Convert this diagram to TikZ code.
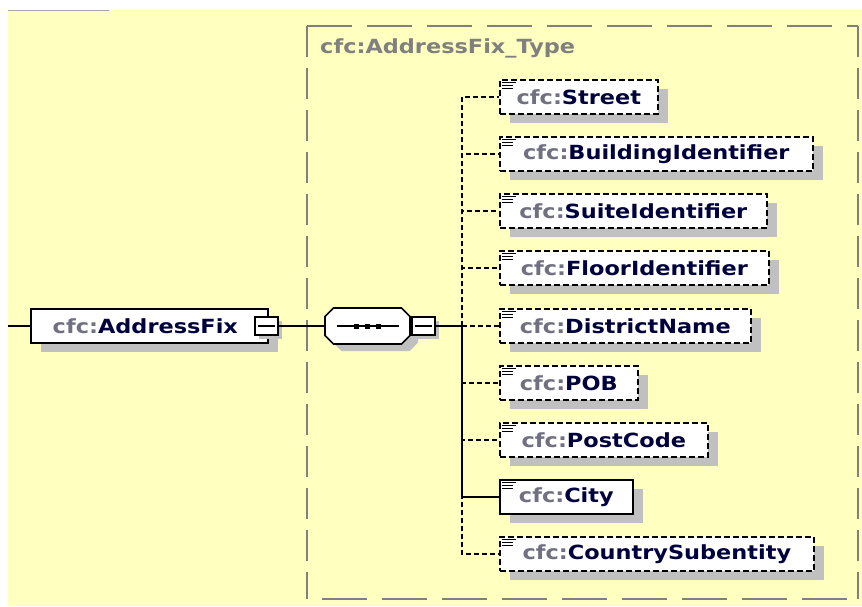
\documentclass[tikz,border=0pt]{standalone}
\usepackage{fontspec}
\setmainfont{DejaVu Sans}
\newfontfamily\schemafont[FakeStretch=1.15]{DejaVu Sans}
\usetikzlibrary{shadows}

\definecolor{bgyellow}{RGB}{255,255,192}
\definecolor{shadowgray}{RGB}{192,192,192}
\definecolor{prefixgray}{RGB}{112,112,128}
\definecolor{namenavy}{RGB}{0,0,60}
\definecolor{typegray}{RGB}{128,128,128}

\newcommand{\cfc}[1]{\textcolor{prefixgray}{cfc:}\textcolor{namenavy}{#1}}
\newcommand{\docicon}[1]{%
  \draw[line width=1.1pt] ([xshift=3pt,yshift=-3pt]#1.north west) -- ++(14,0)
    ([xshift=3pt,yshift=-6pt]#1.north west) -- ++(11,0)
    ([xshift=3pt,yshift=-9pt]#1.north west) -- ++(11,0);}
\newcommand{\octagon}{+(-34,-18) -- +(34,-18) -- +(42.5,-9.5) -- +(42.5,9.5)
  -- +(34,18) -- +(-34,18) -- +(-42.5,9.5) -- +(-42.5,-9.5) -- cycle}

\tikzset{
  elem/.style={draw, line width=1.7pt, fill=white, minimum height=34pt, inner xsep=1pt,
    font={\schemafont\bfseries\fontsize{19.5pt}{21pt}\selectfont},
    drop shadow={shadow xshift=10pt, shadow yshift=-9pt, fill=shadowgray, opacity=1}},
  optelem/.style={elem, dash pattern=on 6pt off 3pt},
  minusbox/.style={draw, fill=white, line width=1.5pt, minimum width=23pt, minimum height=18pt, inner sep=0pt,
    drop shadow={shadow xshift=4pt, shadow yshift=-4pt, fill=shadowgray, opacity=1},
    path picture={\draw[line width=1.5pt] ([xshift=3pt]path picture bounding box.west) -- ([xshift=-3pt]path picture bounding box.east);}},
  seqbox/.style={minimum width=85pt, minimum height=36pt, inner sep=0pt},
  conn/.style={line width=1.7pt},
  optconn/.style={conn, dash pattern=on 5pt off 3pt},
  typeline/.style={typegray, line width=1.3pt},
}

\begin{document}
\begin{tikzpicture}[x=1pt,y=-1pt]
  \useasboundingbox (0,0) rectangle (862,606);
  \fill[bgyellow] (8,10) rectangle (862,606);
  \draw[gray!70, line width=1pt] (8,10) -- (109,10);

  % complex type frame
  \draw[typeline, dash pattern=on 45pt off 15pt] (307,26) -- (858,26);
  \draw[typeline, dash pattern=on 45pt off 15pt] (322,599) -- (858,599);
  \draw[typeline, dash pattern=on 31pt off 11pt] (307,26) -- (307,599);
  \draw[typeline, dash pattern=on 31pt off 11pt] (858,26) -- (858,599);
  \node[anchor=west, inner sep=0pt, text=typegray, font={\schemafont\bfseries\fontsize{19.5pt}{21pt}\selectfont}] (typename) at (320,48) {cfc:AddressFix\_Type};

  % root element and sequence
  \coordinate (in) at (8,326);
  \node[elem, anchor=west, minimum width=237pt] (fix) at (30,326) {\cfc{AddressFix}\hspace*{8pt}};
  \node[minusbox] (fixminus) at (266.5,326) {};
  \node[seqbox] (seq) at (367.5,326) {};
  \fill[shadowgray] ([xshift=8pt,yshift=-7pt]seq.center) \octagon;
  \filldraw[fill=white, line width=1.7pt] (seq.center) \octagon;
  \node[minusbox] (seqminus) at (423.5,326) {};
  \coordinate (trunk) at (462,326);
  \draw[line width=1.5pt] ([xshift=-31pt]seq.center) -- ([xshift=31pt]seq.center);
  \foreach \dx in {-11,0,11}
    \fill ([xshift=\dx pt]seq.center) +(-2.5,-2.5) rectangle +(2.5,2.5);

  % children
  \node[optelem, anchor=west, minimum width=158pt] (street) at (499,97) {\cfc{Street}};
  \node[optelem, anchor=west, minimum width=313pt] (building) at (499,154) {\cfc{BuildingIdentifier}};
  \node[optelem, anchor=west, minimum width=267pt] (suite) at (499,211) {\cfc{SuiteIdentifier}};
  \node[optelem, anchor=west, minimum width=269pt] (floor) at (499,268) {\cfc{FloorIdentifier}};
  \node[optelem, anchor=west, minimum width=251pt] (district) at (499,326) {\cfc{DistrictName}};
  \node[optelem, anchor=west, minimum width=138pt] (pob) at (499,383) {\cfc{POB}};
  \node[optelem, anchor=west, minimum width=208pt] (postcode) at (499,440) {\cfc{PostCode}};
  \node[elem, anchor=west, minimum width=133pt] (city) at (499,497) {\cfc{City}};
  \node[optelem, anchor=west, minimum width=314pt] (country) at (499,554) {\cfc{CountrySubentity}};
  \docicon{street} \docicon{building} \docicon{suite} \docicon{floor} \docicon{district}
  \docicon{pob} \docicon{postcode} \docicon{city} \docicon{country}

  % connectors
  \draw[conn] (in) -- (fix.west);
  \draw[conn] (fixminus.east) -- (seq.west);
  \draw[conn] (seqminus.east) -- (trunk);
  \draw[optconn] (trunk) |- (street.west);
  \draw[optconn] (trunk) |- (building.west);
  \draw[optconn] (trunk) |- (suite.west);
  \draw[optconn] (trunk) |- (floor.west);
  \draw[optconn] (trunk) |- (district.west);
  \draw[optconn] (trunk) |- (pob.west);
  \draw[optconn] (trunk) |- (postcode.west);
  \draw[optconn] (trunk) |- (country.west);
  \draw[conn] (trunk) |- (city.west);
\end{tikzpicture}
\end{document}
